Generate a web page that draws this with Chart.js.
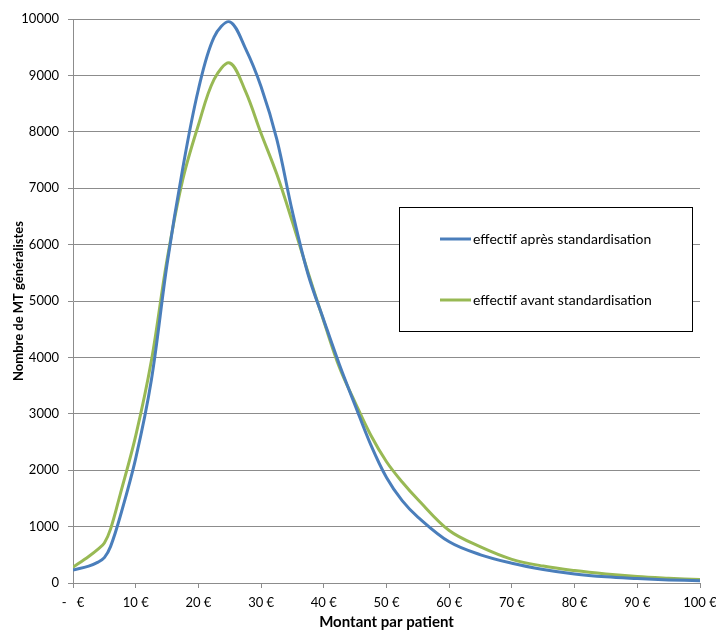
<!DOCTYPE html>
<html>
<head>
<meta charset="utf-8">
<script src="https://cdn.jsdelivr.net/npm/chart.js@4"></script>
<style>
  html, body { margin: 0; padding: 0; background: #fff; }
  #wrap { width: 716px; height: 631px; }
</style>
</head>
<body>
<div id="wrap"><canvas id="chart" width="716" height="631"></canvas></div>
<script>
// Montant par patient (€)
const montants = [0, 2.5, 4, 5, 6, 7.5, 10, 12.5, 15, 17.5, 20, 22.5, 25, 27.5, 30, 32.5, 35, 37.5, 40,
  42.5, 45, 47.5, 50, 52.5, 55, 60, 65, 70, 75, 80, 85, 90, 95, 100];

// effectif après standardisation
const apres = [230, 300, 370, 450, 650, 1170, 2210, 3600, 5650, 7350, 8750, 9680, 9950, 9480, 8800, 7870, 6580, 5470, 4660,
  3870, 3150, 2450, 1870, 1460, 1170, 730, 500, 350, 240, 160, 110, 80, 55, 40];

// effectif avant standardisation
const avant = [280, 470, 600, 710, 960, 1560, 2610, 3940, 5730, 7150, 8120, 8930, 9220, 8720, 7970, 7250, 6400, 5500, 4640,
  3820, 3200, 2620, 2150, 1790, 1480, 930, 640, 420, 300, 220, 160, 115, 85, 60];

const seriesLabels = ["effectif après standardisation", "effectif avant standardisation"];
const xTickLabels = ["-   €", "10 €", "20 €", "30 €", "40 €", "50 €", "60 €", "70 €", "80 €", "90 €", "100 €"];

const FONT = "Lato, 'Open Sans', sans-serif";

// légende encadrée dans la zone du graphique
const boxLegend = {
  id: "boxLegend",
  afterDraw(chart) {
    const ctx = chart.ctx;
    const area = chart.chartArea;
    const left = area.right - 301, top = area.top + 188, w = 293, h = 124;
    ctx.save();
    ctx.fillStyle = "#fff";
    ctx.fillRect(left, top, w, h);
    ctx.strokeStyle = "#000";
    ctx.lineWidth = 1;
    ctx.strokeRect(left + 0.5, top + 0.5, w, h);
    ctx.font = "14px " + FONT;
    ctx.textBaseline = "middle";
    chart.data.datasets.forEach((ds, i) => {
      const y = top + 32 + i * 61;
      ctx.strokeStyle = ds.borderColor;
      ctx.lineWidth = 3;
      ctx.beginPath();
      ctx.moveTo(left + 41, y);
      ctx.lineTo(left + 72, y);
      ctx.stroke();
      ctx.fillStyle = "#000";
      ctx.fillText(ds.label, left + 74, y);
    });
    ctx.restore();
  }
};

new Chart(document.getElementById("chart").getContext("2d"), {
  type: "line",
  data: {
    datasets: [
      {
        label: seriesLabels[0],
        data: montants.map((m, i) => ({ x: m, y: apres[i] })),
        borderColor: "#4a7ebb",
        borderWidth: 3,
        pointRadius: 0,
        tension: 0.35,
        fill: false
      },
      {
        label: seriesLabels[1],
        data: montants.map((m, i) => ({ x: m, y: avant[i] })),
        borderColor: "#98b954",
        borderWidth: 3,
        pointRadius: 0,
        tension: 0.35,
        fill: false
      }
    ]
  },
  options: {
    responsive: false,
    animation: false,
    layout: { padding: { left: 0, right: 16, top: 19, bottom: 0 } },
    plugins: {
      legend: { display: false },
      tooltip: { enabled: false }
    },
    scales: {
      x: {
        type: "linear",
        min: 0,
        max: 100,
        afterFit: s => { s.height = 48; s.paddingRight = 0; s.paddingLeft = 0; },
        grid: { drawOnChartArea: false, drawTicks: true, tickLength: 5, color: "#8c8c8c" },
        border: { color: "#8c8c8c", width: 1 },
        ticks: {
          stepSize: 10,
          padding: 7,
          color: "#000",
          font: { family: FONT, size: 13 },
          maxRotation: 0,
          callback: (v) => xTickLabels[Math.round(v / 10)]
        },
        title: {
          display: true,
          text: "Montant par patient",
          color: "#000",
          font: { family: FONT, size: 15, weight: "bold" },
          padding: { top: 0, bottom: 0 }
        }
      },
      y: {
        min: 0,
        max: 10000,
        afterFit: s => { s.width = 73; },
        grid: { color: "#8c8c8c", tickLength: 5 },
        border: { color: "#8c8c8c", width: 1 },
        ticks: {
          stepSize: 1000,
          padding: 9,
          color: "#000",
          font: { family: FONT, size: 13 },
          callback: (v) => String(v)
        },
        title: {
          display: true,
          text: "Nombre de MT généralistes",
          color: "#000",
          font: { family: FONT, size: 13, weight: "bold" },
          padding: { top: 11, bottom: 0 }
        }
      }
    }
  },
  plugins: [boxLegend]
});
</script>
</body>
</html>
